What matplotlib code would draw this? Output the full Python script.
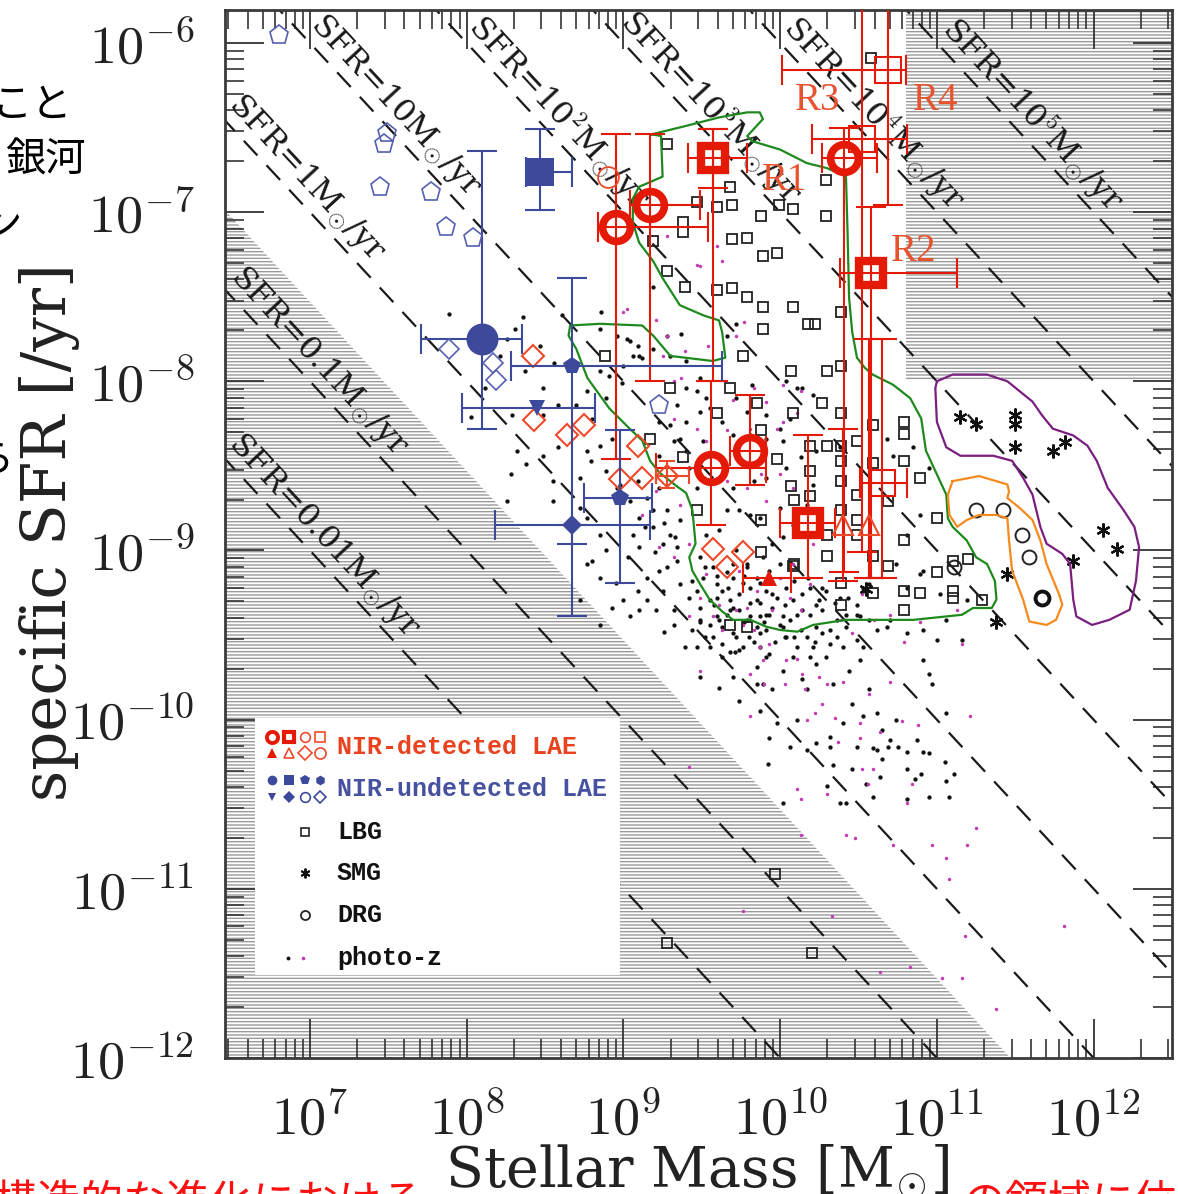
import numpy as np
import matplotlib
matplotlib.use("Agg")
import matplotlib.pyplot as plt
from matplotlib.ticker import FuncFormatter, NullFormatter, LogLocator

plt.rcParams['mathtext.fontset'] = 'cm'
plt.rcParams['hatch.linewidth'] = 1.0

# all positions below are log10(M*/Msun), log10(sSFR/yr^-1)

# photometric-redshift galaxies
photz_black = [
    (7.89, -7.60), (8.36, -7.62), (8.31, -7.69), (8.61, -7.61), (8.86, -7.59), (8.47, -7.79),
    (8.26, -7.75), (8.21, -7.85), (8.37, -7.94), (8.56, -7.89), (8.49, -8.04), (8.58, -8.14),
    (8.49, -8.20), (8.70, -8.14), (8.03, -8.21), (8.12, -8.04), (8.29, -8.20), (8.85, -7.69),
    (8.96, -7.73), (9.04, -7.76), (9.10, -7.85), (8.85, -7.94), (8.91, -7.97), (8.99, -8.01),
    (8.77, -8.06), (8.80, -8.22), (8.89, -8.10), (8.85, -8.38), (8.93, -8.34), (8.79, -8.47),
    (8.89, -8.53), (8.98, -8.61), (9.09, -8.59), (9.15, -8.69), (9.23, -8.63), (9.19, -8.76),
    (9.10, -8.81), (9.06, -8.91), (8.85, -8.91), (8.77, -8.81), (8.58, -8.39), (8.49, -8.44),
    (8.32, -8.41), (8.28, -8.55), (8.38, -8.49), (8.55, -8.59), (8.72, -8.57), (8.96, -8.63),
    (9.04, -8.71), (8.55, -8.71), (8.26, -8.71), (8.77, -8.41),
    (9.19, -7.44), (9.28, -7.73), (9.37, -7.72), (9.02, -7.75), (9.09, -7.79), (9.06, -7.85),
    (9.12, -7.86), (9.00, -7.91), (9.72, -7.66), (9.66, -7.73), (9.82, -8.02), (9.19, -7.81),
    (9.30, -7.85), (9.40, -7.88), (9.49, -7.98), (9.40, -8.04), (9.53, -8.10), (9.34, -8.14),
    (9.49, -8.18), (9.47, -8.06), (9.72, -8.10), (9.79, -8.18), (9.63, -8.24),
    (9.23, -8.24), (9.40, -8.24), (9.55, -8.16), (9.91, -8.20), (9.81, -8.32), (10.02, -8.35),
    (9.70, -8.32), (9.51, -8.35), (9.32, -8.35), (9.40, -8.41), (9.23, -8.44), (9.91, -8.34),
    (10.00, -8.28), (10.06, -8.22), (10.21, -8.08), (10.11, -8.04), (10.04, -8.51), (9.91, -8.57),
    (9.83, -8.59), (9.70, -8.63), (9.66, -8.76), (9.74, -8.76), (9.87, -8.81), (10.00, -8.75),
    (10.08, -8.85), (10.02, -8.92), (9.95, -8.96), (10.21, -8.61), (10.17, -8.73), (10.21, -8.91),
    (9.89, -9.04), (9.79, -9.08), (9.72, -9.00), (9.61, -8.88), (9.53, -8.91), (9.36, -8.82),
    (9.30, -8.91), (9.25, -8.96), (9.34, -9.06), (9.23, -9.12), (9.15, -9.16), (9.09, -9.24),
    (9.00, -9.29), (9.25, -9.24), (9.36, -9.20), (9.42, -9.28), (9.21, -9.35), (9.32, -9.35),
    (9.10, -9.35), (8.93, -9.34), (8.85, -9.16), (8.80, -9.06), (8.89, -9.00), (9.42, -8.51),
    (9.47, -8.63), (9.36, -8.34), (9.30, -8.26), (9.28, -8.76), (9.19, -8.86), (9.10, -8.98),
    (9.34, -8.98), (9.28, -9.10), (9.44, -9.18), (9.15, -9.29), (9.49, -9.34), (9.60, -9.28),
    (9.70, -9.34), (9.61, -9.41), (9.79, -9.41), (9.91, -9.38), (10.02, -9.45), (9.87, -9.49),
    (9.70, -9.49), (9.44, -9.47), (9.32, -9.44), (8.85, -9.44), (8.72, -9.29), (8.77, -9.08),
    (8.72, -8.75), (9.81, -8.79), (10.04, -8.00), (10.14, -8.04), (10.23, -8.41), (10.13, -8.45),
    (10.38, -8.39), (10.68, -8.34), (10.72, -8.44), (10.85, -8.39), (10.95, -8.51), (10.89, -8.79),
    (10.81, -8.91), (10.74, -9.08), (10.89, -9.14), (10.81, -9.22), (10.53, -9.22),
    (9.47, -9.24), (9.55, -9.29), (9.63, -9.24), (9.68, -9.29), (9.74, -9.26), (9.81, -9.22),
    (9.85, -9.29), (9.91, -9.24), (9.98, -9.28), (10.04, -9.22), (10.08, -9.29), (10.14, -9.26),
    (10.23, -9.32), (10.27, -9.35), (10.19, -9.38), (10.11, -9.38), (10.02, -9.39), (9.93, -9.38),
    (9.87, -9.39), (9.81, -9.39), (9.74, -9.35), (9.66, -9.38), (9.60, -9.39), (9.55, -9.44),
    (9.63, -9.45), (9.72, -9.51), (9.85, -9.45), (9.91, -9.47), (10.00, -9.44), (10.06, -9.41),
    (10.13, -9.47), (10.17, -9.51), (10.23, -9.45), (10.27, -9.49), (10.36, -9.41), (10.42, -9.38),
    (10.49, -9.32), (10.53, -9.24), (10.57, -9.20), (9.85, -9.16), (9.93, -9.12), (10.00, -9.08),
    (9.79, -9.10), (9.70, -9.16), (9.60, -9.20), (9.51, -9.16), (9.70, -9.08), (10.14, -9.35),
    (10.25, -9.29), (10.49, -9.38), (10.57, -9.41), (10.68, -9.45), (10.81, -9.49), (10.91, -9.47),
    (11.00, -9.53), (11.16, -9.53), (11.06, -9.41), (11.19, -9.29), (11.02, -9.26), (10.91, -9.12),
    (9.49, -9.04), (9.57, -9.10), (9.66, -9.13), (9.76, -9.19), (9.49, -9.41), (9.57, -9.51),
    (9.68, -9.60), (9.83, -9.54), (9.91, -9.63), (10.04, -9.51), (10.08, -9.63), (10.21, -9.57),
    (10.29, -9.63), (10.36, -9.51), (10.42, -9.45), (9.87, -9.31), (9.95, -9.34), (10.19, -9.22),
    (10.29, -9.24), (10.38, -9.28), (9.81, -9.31),
    (9.52, -9.10), (9.60, -9.15), (9.67, -9.22), (9.77, -9.15), (9.87, -9.19), (9.95, -9.26),
    (10.03, -9.32), (10.09, -9.18), (10.18, -9.16), (10.27, -9.22), (10.35, -9.31), (10.43, -9.28),
    (10.51, -9.39), (10.32, -9.47), (10.22, -9.54), (10.09, -9.51), (9.97, -9.54), (9.87, -9.57),
    (9.80, -9.51), (9.71, -9.60), (9.63, -9.63), (9.52, -9.51), (9.49, -9.42), (9.58, -9.32),
    (9.68, -9.35), (9.77, -9.42), (9.90, -9.42), (10.03, -9.51),
    (9.01, -8.69), (9.14, -8.86), (9.26, -8.84), (9.20, -9.01), (9.33, -8.92), (9.03, -9.04),
    (8.95, -9.19), (9.04, -9.39), (9.26, -9.48), (9.39, -9.57), (9.49, -9.75), (9.61, -9.81),
    (9.74, -9.89), (9.87, -9.95),
    (9.55, -9.57), (9.63, -9.55), (9.76, -9.57), (9.93, -9.61), (10.11, -9.57), (10.19, -9.63),
    (10.32, -9.55), (10.40, -9.57), (10.49, -9.53), (10.53, -9.57), (10.62, -9.47), (10.70, -9.41),
    (10.51, -9.65), (10.44, -9.71), (10.23, -9.67), (10.02, -9.71), (9.85, -9.69), (9.85, -9.79),
    (9.95, -9.82), (10.14, -9.76), (10.17, -9.82), (10.34, -9.79), (10.46, -9.91), (10.57, -9.82),
    (10.62, -9.96), (10.53, -9.98), (10.65, -10.06), (10.74, -10.00), (10.91, -9.65), (10.95, -9.73),
    (10.97, -9.79), (11.06, -9.96), (10.87, -10.12), (10.70, -10.12), (10.62, -10.18), (10.49, -10.16),
    (10.32, -10.10), (10.23, -10.14), (10.11, -10.00), (9.98, -10.02), (9.93, -10.11), (10.06, -10.16),
    (10.17, -10.18), (10.40, -10.02), (9.89, -9.79), (9.70, -9.75), (9.74, -9.59), (9.47, -9.57),
    (10.95, -10.20), (10.32, -10.16), (10.59, -10.17), (10.69, -10.16), (10.75, -10.16), (10.81, -10.19),
    (10.91, -10.19), (9.92, -10.26), (10.34, -10.27), (10.46, -10.29), (10.65, -10.23), (10.81, -10.29),
    (10.90, -10.32), (10.86, -10.35), (10.64, -10.34), (10.55, -10.38), (10.30, -10.39), (10.59, -10.46),
    (10.81, -10.47), (10.95, -10.46), (11.08, -10.46), (11.06, -10.36), (11.11, -10.32), (11.05, -10.25),
    (10.38, -10.49), (10.42, -10.49), (10.02, -10.49),
]
photz_pink = [
    (9.49, -9.71), (9.81, -9.73), (9.87, -9.57), (9.93, -9.55), (9.89, -9.65), (10.04, -9.65),
    (10.14, -9.73), (10.25, -9.75), (10.30, -9.79), (10.40, -9.78), (10.16, -9.82), (10.03, -9.79),
    (9.90, -9.79), (9.81, -9.98), (10.17, -10.00), (10.22, -9.96), (10.27, -9.91), (10.35, -9.99),
    (10.51, -10.02), (10.57, -9.85), (10.64, -10.07), (10.78, -10.01), (10.88, -10.03), (10.70, -9.78),
    (10.79, -9.54), (11.16, -9.55), (11.21, -9.98), (10.46, -9.49), (10.39, -9.41), (10.13, -9.35),
    (9.95, -9.35), (9.79, -9.34), (9.61, -9.32), (9.49, -9.28), (9.76, -9.44), (10.11, -9.64),
    (10.51, -10.11), (11.13, -9.35), (10.52, -9.26), (10.60, -9.41), (10.70, -9.38), (10.89, -9.42),
    (9.42, -10.28), (10.11, -10.41), (10.13, -10.47), (10.30, -10.44), (10.37, -10.13), (10.52, -10.29),
    (10.59, -10.29), (10.56, -10.38), (10.84, -10.38), (10.81, -10.49), (10.13, -10.68), (10.42, -10.68),
    (10.48, -10.70), (10.72, -10.74), (10.97, -10.74), (11.19, -10.74), (11.25, -10.64), (11.06, -10.82),
    (11.08, -10.94), (9.76, -11.13), (10.33, -11.16), (11.18, -11.28), (10.83, -11.46), (10.64, -11.49),
    (11.03, -11.53), (11.16, -11.53), (11.81, -11.22), (11.38, -11.71),
    (9.28, -7.14), (9.47, -7.31), (9.60, -7.20), (9.63, -7.29), (9.77, -7.65), (9.72, -7.73),
    (9.02, -7.57), (9.21, -7.64), (9.28, -7.73), (9.39, -7.82), (9.54, -7.79), (9.25, -7.85),
    (9.37, -7.98), (9.70, -8.11), (10.02, -8.02), (10.11, -8.19), (9.47, -8.28), (9.53, -8.35),
    (9.66, -8.29), (9.83, -8.49), (9.88, -8.55), (9.79, -8.63), (9.66, -8.59), (9.91, -8.71),
    (10.02, -8.24), (10.13, -8.06), (10.00, -8.55), (10.08, -8.63), (9.32, -8.22), (9.21, -8.65),
    (9.36, -8.73), (9.23, -8.98), (9.32, -9.04), (9.12, -8.79), (9.42, -8.96), (9.53, -9.14),
    (9.74, -9.12), (9.85, -9.24), (10.00, -9.16), (10.08, -9.08), (10.21, -8.96), (10.19, -9.20),
    (10.06, -9.28), (9.72, -9.35), (9.57, -9.39), (9.42, -9.39), (9.63, -9.47), (9.83, -9.47),
    (9.49, -7.32), (9.00, -7.59), (9.32, -8.00), (9.83, -8.04), (9.91, -8.12), (9.81, -8.28),
    (9.98, -8.28),
]

lbg = [
    (9.28, -6.60), (9.68, -6.85), (9.47, -6.94), (9.60, -6.97), (9.69, -6.96), (9.88, -7.02),
    (9.99, -6.96), (10.08, -6.98), (10.29, -7.02), (10.29, -6.81), (9.38, -7.06), (9.38, -7.12),
    (9.19, -7.17), (9.69, -7.16), (9.79, -7.15), (9.89, -7.26), (9.98, -7.24), (9.28, -7.35),
    (9.39, -7.44), (9.60, -7.46), (9.69, -7.45), (9.79, -7.50), (9.89, -7.56), (10.08, -7.56),
    (10.18, -7.66), (10.22, -7.66), (9.89, -7.69), (10.39, -7.59), (9.76, -7.85), (10.07, -7.94),
    (10.30, -7.94), (10.39, -7.91), (9.30, -8.04), (9.68, -8.04), (9.85, -8.13), (10.27, -8.13),
    (10.08, -8.19), (10.39, -8.19), (9.60, -8.19), (10.58, -6.09), (8.88, -7.85), (9.17, -8.34),
    (9.38, -8.45), (9.98, -8.46), (10.07, -8.62), (9.47, -8.76), (9.88, -9.01), (9.68, -9.44),
    (9.79, -9.45), (9.88, -8.29), (10.19, -8.38), (10.19, -8.53), (10.19, -8.68), (9.88, -8.82),
    (10.08, -9.09), (10.59, -8.26), (10.79, -8.24), (10.79, -8.31), (10.30, -8.38), (10.39, -8.38),
    (10.49, -8.35), (10.39, -8.47), (10.59, -8.48), (10.79, -8.47), (10.89, -8.57), (10.39, -8.59),
    (10.09, -8.70), (10.49, -8.67), (10.69, -8.71), (10.39, -8.76), (11.00, -8.81), (10.49, -8.82),
    (10.79, -8.94), (10.30, -8.91), (10.49, -8.91), (10.30, -9.03), (10.59, -9.03), (10.69, -9.09),
    (11.00, -9.13), (11.10, -9.06), (11.20, -9.05), (10.39, -9.19), (10.59, -9.25), (10.79, -9.24),
    (10.89, -9.25), (11.10, -9.24), (11.10, -9.28), (10.79, -9.35), (10.39, -9.32), (11.29, -9.29),
    (10.09, -9.08), (9.97, -10.91), (9.28, -11.32), (10.20, -11.38),
]
smg = [
    (11.15, -8.21), (11.25, -8.25), (11.50, -8.20), (11.50, -8.25), (11.50, -8.39), (11.74, -8.41),
    (11.82, -8.36), (12.06, -8.88), (12.15, -8.99), (11.87, -9.06), (11.45, -9.14), (11.38, -9.42),
    (10.55, -9.23),
]
drg = [(11.25, -8.76), (11.42, -8.76), (11.54, -8.91), (11.59, -9.04), (11.11, -9.10)]
drg_bold = [(11.67, -9.28)]

# hand-drawn group outlines
green_outline = [
    (9.18, -6.54), (9.40, -6.49), (9.61, -6.44), (9.79, -6.41), (9.87, -6.41), (9.89, -6.45),
    (9.85, -6.49), (9.79, -6.55), (9.82, -6.58), (10.00, -6.63), (10.17, -6.71), (10.30, -6.74),
    (10.42, -6.79), (10.43, -7.12), (10.44, -7.51), (10.46, -7.71), (10.49, -7.86), (10.54, -7.92),
    (10.59, -7.96), (10.72, -8.02), (10.83, -8.10), (10.90, -8.22), (10.93, -8.41), (11.00, -8.55),
    (11.06, -8.67), (11.07, -8.81), (11.10, -8.86), (11.19, -8.94), (11.25, -9.04), (11.32, -9.08),
    (11.37, -9.18), (11.38, -9.29), (11.35, -9.34), (11.23, -9.34), (11.16, -9.38), (10.85, -9.41),
    (10.42, -9.41), (10.21, -9.44), (10.11, -9.48), (10.00, -9.47), (9.91, -9.45), (9.81, -9.41),
    (9.70, -9.41), (9.63, -9.36), (9.55, -9.29), (9.49, -9.20), (9.44, -9.12), (9.42, -9.04),
    (9.46, -8.96), (9.44, -8.76), (9.40, -8.66), (9.34, -8.62), (9.23, -8.54), (9.17, -8.47),
    (9.12, -8.35), (9.04, -8.28), (8.91, -8.16), (8.77, -7.98), (8.70, -7.81), (8.65, -7.73),
    (8.66, -7.67), (8.85, -7.66), (9.12, -7.67), (9.19, -7.73), (9.30, -7.85), (9.57, -7.88),
    (9.65, -7.86), (9.63, -7.71), (9.61, -7.64), (9.51, -7.61), (9.36, -7.55), (9.25, -7.39),
    (9.19, -7.29), (9.10, -7.18), (9.06, -7.06), (9.06, -6.92), (9.10, -6.85), (9.25, -6.79),
    (9.24, -6.55), (9.18, -6.54),
]
purple_outline = [
    (11.00, -8.00), (11.10, -7.96), (11.32, -7.96), (11.45, -8.00), (11.53, -8.06), (11.61, -8.12),
    (11.67, -8.20), (11.74, -8.28), (11.87, -8.32), (11.96, -8.38), (12.02, -8.47), (12.09, -8.63),
    (12.19, -8.76), (12.26, -8.86), (12.29, -8.98), (12.27, -9.18), (12.23, -9.35), (12.10, -9.41),
    (11.99, -9.44), (11.89, -9.39), (11.87, -9.29), (11.85, -9.08), (11.80, -9.02), (11.70, -8.96),
    (11.66, -8.86), (11.61, -8.67), (11.55, -8.57), (11.48, -8.47), (11.36, -8.44), (11.15, -8.44),
    (11.06, -8.39), (11.00, -8.24), (10.99, -8.04), (11.00, -8.00),
]
orange_outline = [
    (11.10, -8.59), (11.27, -8.56), (11.45, -8.61), (11.46, -8.65), (11.45, -8.69), (11.53, -8.75),
    (11.61, -8.82), (11.66, -8.94), (11.70, -9.08), (11.78, -9.26), (11.80, -9.32), (11.76, -9.41),
    (11.70, -9.44), (11.59, -9.42), (11.55, -9.29), (11.48, -9.12), (11.46, -8.94), (11.45, -8.81),
    (11.38, -8.79), (11.27, -8.79), (11.19, -8.82), (11.13, -8.86), (11.08, -8.79), (11.07, -8.67),
    (11.10, -8.59),
]

# LAEs: (logM, logsSFR, logM low, logM high, logsSFR low, logsSFR high)
nir_circles = [
    (8.95, -7.09, 8.84, 9.54, -8.46, -6.54),
    (9.17, -6.96, 9.04, 9.49, -8.00, -6.54),
    (10.41, -6.68, 10.27, 10.62, -9.13, -6.50),
    (9.56, -8.51, 9.21, 9.91, -8.85, -8.00),
    (9.81, -8.41, 9.68, 9.91, -8.61, -8.08),
]
nir_squares = [
    (9.57, -6.68, 9.41, 9.79, -8.00, -6.51),
    (10.58, -7.36, 10.38, 11.13, -9.16, -6.97),
    (10.18, -8.84, 10.00, 10.35, -9.16, -8.32),
]
nir_square_err2 = [(9.57, -6.68, None, None, -6.86, -6.51)]
nir_open_squares = [
    (10.52, -6.57, 10.20, 10.81, -9.01, -5.60),
    (10.69, -6.16, 10.01, 10.80, -6.96, -5.60),
    (10.65, -8.60, 10.51, 10.81, -9.16, -7.75),
]
nir_open_tri = [
    (10.40, -8.85, -9.18, -8.28),
    (10.57, -8.85, -9.16, -7.75),
]
nir_tri = [(9.93, -9.16, 9.76, 10.07)]
nir_diamonds = [
    (8.42, -7.85), (8.43, -8.23), (8.64, -8.32), (8.75, -8.26), (9.09, -8.38), (8.98, -8.58),
    (9.12, -8.57), (9.57, -8.99), (9.76, -9.01), (9.66, -9.10),
]
nir_diamond_err = [(9.28, -8.56, 9.21, 9.42, -8.63, -8.47)]
nir_small_circle = [(8.90, -6.79)]
r_names = ['R1', 'R2', 'R3', 'R4']
r_pos = [(10.03, -6.81), (10.85, -7.23), (10.24, -6.34), (10.99, -6.34)]

blue_square = [(8.47, -6.76, 8.38, 8.67, -6.99, -6.51)]
blue_circle = [(8.10, -7.75, 7.71, 8.35, -8.28, -6.64)]
blue_pent = [(8.67, -7.91, 8.28, 9.63, -9.39, -7.39), (8.98, -8.69, 8.75, 9.18, -9.19, -8.29)]
blue_tri = [(8.45, -8.16, 7.97, 8.82)]
blue_diam = [(8.67, -8.85, 8.18, 9.17, -8.96, -8.85)]
blue_open_pent = [(6.80, -5.95), (7.49, -6.53), (7.47, -6.60), (7.45, -6.85), (7.77, -6.88),
                  (7.87, -7.09), (8.04, -7.15), (9.23, -8.14)]
blue_open_diam = [(7.89, -7.81), (8.17, -7.89), (8.19, -7.99)]

# constant-SFR lines, log10(SFR / Msun yr^-1)
sfr_levels = [-2, -1, 0, 1, 2, 3, 4, 5]
sfr_label_logm = [7.09, 7.06, 6.98, 7.55, 8.59, 9.56, 10.60, 11.61]
shade_sfr = -0.53          # lower-left excluded region
shade_box = (10.8, -8.0)   # upper-right excluded region

XLIM = (6.458, 12.5)
YLIM = (-12.0, -5.805)

RED = '#e41a06'
RED2 = '#ee4a2a'
BLUE = '#3d4a9c'
PINK = '#c43cb4'
HATCH = '#9a9a9a'
MSUN = r'$\mathdefault{M}_{\odot}$'

fig = plt.figure(figsize=(11.78, 11.94), dpi=100)
ax = fig.add_axes([225 / 1178, 1 - 1058 / 1194, 947 / 1178, 1048 / 1194])
ax.set_xscale('log')
ax.set_yscale('log')
ax.set_xlim(10 ** XLIM[0], 10 ** XLIM[1])
ax.set_ylim(10 ** YLIM[0], 10 ** YLIM[1])


def P(pts):
    a = np.array(pts, dtype=float)
    return 10 ** a[:, 0], 10 ** a[:, 1]


# shaded (excluded) regions
m = np.array([6.0, 13.0])
ax.fill([10 ** 6.0, 10 ** 13.0, 10 ** 6.0], [10 ** (shade_sfr - 6.0), 10 ** (shade_sfr - 13.0), 1e-13],
        facecolor='none', edgecolor=HATCH, hatch='-----', lw=0, zorder=1)
ax.fill([10 ** shade_box[0], 1e13, 1e13, 10 ** shade_box[0]],
        [10 ** shade_box[1], 10 ** shade_box[1], 1e-5, 1e-5],
        facecolor='none', edgecolor=HATCH, hatch='-----', lw=0, zorder=1)

# SFR = const lines
bb = ax.get_position()
px_x = bb.width * 1178 / (XLIM[1] - XLIM[0])
px_y = bb.height * 1194 / (YLIM[1] - YLIM[0])
ang = np.degrees(np.arctan2(px_y, px_x))
for k, lm in zip(sfr_levels, sfr_label_logm):
    ax.plot(10 ** m, 10 ** (k - m), color='#1a1a1a', lw=1.6, ls=(0, (9, 6)), zorder=2)
    if k == -2:
        val = '0.01'
    elif k == -1:
        val = '0.1'
    elif k == 0:
        val = '1'
    elif k == 1:
        val = '10'
    else:
        val = '10$^{%d}$' % k
    s = 'SFR=' + val + MSUN + '/yr'
    ax.text(10 ** lm, 10 ** (k + 0.18 - lm), s, rotation=-ang, rotation_mode='anchor',
            ha='center', va='center', fontsize=23, family='DejaVu Serif', color='#1a1a1a', zorder=2)

# photo-z, LBG, SMG, DRG
ax.plot(*P(photz_black), ls='none', marker='o', ms=3.1, color='#111111', mew=0, zorder=3)
ax.plot(*P(photz_pink), ls='none', marker='o', ms=2.5, color=PINK, mew=0, zorder=3)
ax.plot(*P(lbg), ls='none', marker='s', ms=7.5, mfc='none', mec='#222222', mew=1.3, zorder=4)
ax.plot(*P(smg), ls='none', marker=(6, 2, 0), ms=10, color='#111111', mew=1.6, zorder=4)
ax.plot(*P(drg), ls='none', marker='o', ms=10, mfc='none', mec='#222222', mew=1.4, zorder=4)
ax.plot(*P(drg_bold), ls='none', marker='o', ms=10, mfc='none', mec='#111111', mew=2.8, zorder=4)

# outlines
for pts, c in [(green_outline, '#1e8a1e'), (purple_outline, '#7a1e80'), (orange_outline, '#f58a1e')]:
    ax.plot(*P(pts), color=c, lw=1.6, zorder=5)


def ebar(rows, marker, ms, color, mfc, mew, ecolor, cap=11, z=6):
    for r in rows:
        lm, ls_, mlo, mhi, slo, shi = r
        x, y = 10 ** lm, 10 ** ls_
        xerr = None if mlo is None else [[x - 10 ** mlo], [10 ** mhi - x]]
        yerr = None if slo is None else [[y - 10 ** slo], [10 ** shi - y]]
        ax.errorbar([x], [y], xerr=xerr, yerr=yerr, fmt='none', ecolor=ecolor, elinewidth=1.5,
                    capsize=cap, capthick=1.5, zorder=z)
        if marker is not None:
            ax.plot([x], [y], ls='none', marker=marker, ms=ms, mfc=mfc, mec=color, mew=mew, zorder=z + 0.5)


# NIR-detected LAEs
ebar(nir_circles, 'o', 20, RED, 'none', 5.5, RED)
ebar(nir_square_err2, None, 0, RED, 'none', 0, RED)
ebar(nir_squares, 's', 17, RED, 'none', 6, RED)
ebar(nir_open_squares, 's', 19, RED, 'none', 1.5, RED)
ebar([(a, b, None, None, c, d) for a, b, c, d in nir_open_tri], '^', 14, RED2, 'none', 1.5, RED)
ebar([(a, b, c, d, None, None) for a, b, c, d in nir_tri], '^', 12, RED, RED, 0, RED)
ebar(nir_diamond_err, 'D', 11, RED2, 'none', 1.5, RED2, cap=6)
ax.plot(*P(nir_diamonds), ls='none', marker='D', ms=11, mfc='none', mec=RED2, mew=1.5, zorder=6)
ax.plot(*P(nir_small_circle), ls='none', marker='o', ms=15, mfc='none', mec=RED2, mew=1.3, zorder=6)
for name, (lm, ls_) in zip(r_names, r_pos):
    ax.text(10 ** lm, 10 ** ls_, name, color='#e8532f', fontsize=28, family='Liberation Serif',
            ha='center', va='center', zorder=7)

# NIR-undetected LAEs
ebar(blue_square, 's', 20, BLUE, BLUE, 0, BLUE)
ebar(blue_circle, 'o', 23, BLUE, BLUE, 0, BLUE)
ebar(blue_pent, 'p', 13, BLUE, BLUE, 0, BLUE)
ebar([(a, b, c, d, None, None) for a, b, c, d in blue_tri], 'v', 11, BLUE, BLUE, 0, BLUE)
ebar(blue_diam, 'D', 10, BLUE, BLUE, 0, BLUE)
ax.plot(*P(blue_open_pent), ls='none', marker='p', ms=14, mfc='none', mec='#5560b0', mew=1.2, zorder=6)
ax.plot(*P(blue_open_diam), ls='none', marker='D', ms=10, mfc='none', mec='#5560b0', mew=1.2, zorder=6)

# axes styling
for sp in ax.spines.values():
    sp.set_linewidth(2.0)
    sp.set_color('#3a3a3a')
for axis in (ax.xaxis, ax.yaxis):
    axis.set_major_locator(LogLocator(base=10, numticks=30))
    axis.set_minor_locator(LogLocator(base=10, subs=np.arange(2, 10), numticks=200))
    axis.set_major_formatter(FuncFormatter(lambda v, p: r'$10^{%d}$' % int(round(np.log10(v)))))
    axis.set_minor_formatter(NullFormatter())
ax.tick_params(which='both', direction='in', top=True, right=True, color='#333333')
ax.tick_params(which='major', length=28, width=1.3, labelsize=39, labelcolor='#222222')
ax.tick_params(which='minor', length=14, width=1.2)
ax.tick_params(axis='y', which='major', pad=22)
ax.tick_params(axis='x', which='major', pad=26)

# legend box
leg = fig.add_axes([255 / 1178, 1 - 975 / 1194, 365 / 1178, 257 / 1194])
leg.set_xlim(0, 365)
leg.set_ylim(257, 0)
leg.set_xticks([])
leg.set_yticks([])
for sp in leg.spines.values():
    sp.set_visible(False)
leg.set_facecolor('white')

lx = [17, 34, 50, 65]
leg.plot(lx[0], 19, 'o', ms=8, mfc='none', mec=RED, mew=2.8)
leg.plot(lx[1], 19, 's', ms=7, mfc='none', mec=RED, mew=3)
leg.plot(lx[2], 19, 'o', ms=7, mfc='none', mec=RED2, mew=1.2)
leg.plot(lx[3], 19, 's', ms=7, mfc='none', mec=RED2, mew=1.2)
leg.plot(lx[0], 35, '^', ms=7, color=RED, mew=0)
leg.plot(lx[1], 35, '^', ms=7, mfc='none', mec=RED2, mew=1.2)
leg.plot(lx[2], 35, 'D', ms=7, mfc='none', mec=RED2, mew=1.2)
leg.plot(lx[3], 35, 'o', ms=8, mfc='none', mec=RED2, mew=1.2)
leg.plot(lx[0], 62, 'o', ms=7, color=BLUE, mew=0)
leg.plot(lx[1], 62, 's', ms=7, color=BLUE, mew=0)
leg.plot(lx[2], 62, 'p', ms=7, color=BLUE, mew=0)
leg.plot(lx[3], 62, 'h', ms=7, color=BLUE, mew=0)
leg.plot(lx[0], 79, 'v', ms=6, color=BLUE, mew=0)
leg.plot(lx[1], 79, 'D', ms=6, color=BLUE, mew=0)
leg.plot(lx[2], 79, 'o', ms=7, mfc='none', mec=BLUE, mew=1.2)
leg.plot(lx[3], 79, 'D', ms=6, mfc='none', mec=BLUE, mew=1.2)
leg.plot(50, 114, 's', ms=5.5, mfc='none', mec='#222222', mew=1.2)
leg.plot(50, 155, marker=(6, 2, 0), ms=7, color='#111111', mew=1.4)
leg.plot(50, 197, 'o', ms=6.5, mfc='none', mec='#222222', mew=1.3)
leg.plot(33, 240, 'o', ms=2.8, color='#111111', mew=0)
leg.plot(48, 240, 'o', ms=2.6, color=PINK, mew=0)
leg_font = dict(family='Liberation Mono', fontsize=18, weight='bold', va='center', ha='left')
leg.text(82, 29, 'NIR-detected LAE', color='#e8421e', **leg_font)
leg.text(82, 71, 'NIR-undetected LAE', color='#4651a0', **leg_font)
leg.text(82, 114, 'LBG', color='#111111', **leg_font)
leg.text(82, 155, 'SMG', color='#111111', **leg_font)
leg.text(82, 197, 'DRG', color='#111111', **leg_font)
leg.text(82, 240, 'photo-z', color='#111111', **leg_font)

# axis titles
fig.text(50 / 1178, 1 - 532 / 1194, 'specific SFR [/yr]', rotation=90, ha='center', va='center',
         fontsize=44, family='DejaVu Serif', color='#222222')
fig.text(697 / 1178, 1 - 1187 / 1194, 'Stellar Mass [' + MSUN + ']', ha='center', va='baseline',
         fontsize=40, family='DejaVu Serif', color='#222222')

# slide text around the figure
jp = dict(family='Noto Sans CJK JP', fontsize=29, color='black', ha='right', va='center')
fig.text(72 / 1178, 1 - 105 / 1194, 'こと', **jp)
fig.text(86 / 1178, 1 - 160 / 1194, '銀河', **jp)
fig.text(22 / 1178, 1 - 226 / 1194, 'ン', **jp)
fig.text(14 / 1178, 1 - 461 / 1194, 'ら', **jp)
red_jp = dict(family='Noto Sans CJK JP', fontsize=31, color='#ff1010', va='baseline')
fig.text(424 / 1178, 1 - 1216 / 1194, '銀河の階層構造的な進化における', ha='right', **red_jp)
fig.text(962 / 1178, 1 - 1216 / 1194, 'の領域に位置して', ha='left', **red_jp)

fig.savefig('out.png', dpi=100)
